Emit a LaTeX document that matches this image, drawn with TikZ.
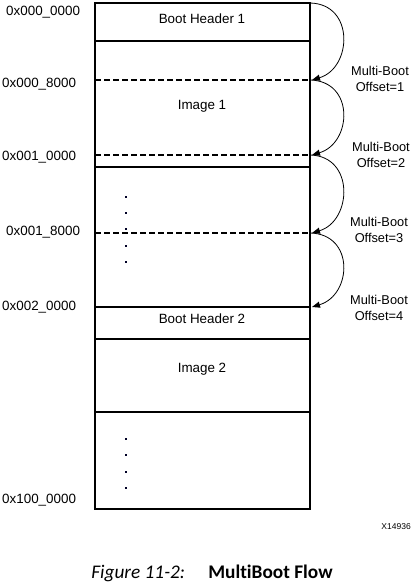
\documentclass[tikz,border=0pt]{standalone}
\usepackage{fontspec}
\setmainfont{Liberation Sans}
\newfontfamily\capfont[Ligatures=NoCommon]{Carlito}
\usetikzlibrary{arrows.meta}
\begin{document}
\begin{tikzpicture}[x=1pt,y=-1pt,
  lbl/.style={font=\fontsize{13.4}{14}\selectfont, inner sep=0pt},
  addr/.style={font=\fontsize{13.4}{14}\selectfont, inner sep=0pt, anchor=west},
  mb/.style={font=\fontsize{12.8}{16.5}\selectfont, inner sep=0pt, align=center},
  solidline/.style={line width=2pt},
  dashline/.style={line width=1.4pt, dash pattern=on 6pt off 3pt},
  jump/.style={line width=0.8pt, -{Triangle[length=8pt,width=6pt]}},
  dotmark/.style={fill=black!85!blue, inner sep=0pt, minimum size=2pt, shape=rectangle}
]
\useasboundingbox (0,0) rectangle (412,586);
% memory box
\draw[solidline] (95,3) rectangle (310,509);
\draw[solidline] (95,41) -- (310,41);
\draw[solidline] (95,167) -- (310,167);
\draw[solidline] (95,307) -- (310,307);
\draw[solidline] (95,339) -- (310,339);
\draw[solidline] (95,412) -- (310,412);
\draw[dashline] (95,80) -- (310,80);
\draw[dashline] (95,155) -- (310,155);
\draw[dashline] (95,233) -- (310,233);
% region labels
\node[lbl] (bh1) at (202,19) {Boot Header 1};
\node[lbl] (im1) at (202,106) {Image 1};
\node[lbl] (bh2) at (202,319) {Boot Header 2};
\node[lbl] (im2) at (202,369) {Image 2};
% dots
\foreach \y [count=\i] in {197,213,229,246,262} \node[dotmark] (da\i) at (126,\y) {};
\foreach \y [count=\i] in {439,455,472,488} \node[dotmark] (db\i) at (126,\y) {};
% addresses
\node[addr] (a0) at (6,12) {0x000\_0000};
\node[addr] (a1) at (2,84) {0x000\_8000};
\node[addr] (a2) at (2,157) {0x001\_0000};
\node[addr] (a3) at (6,232) {0x001\_8000};
\node[addr] (a4) at (2,307) {0x002\_0000};
\node[addr] (a5) at (2,500) {0x100\_0000};
% jump points
\coordinate (p0) at (310,3);
\coordinate (p1) at (312,80);
\coordinate (q1) at (310,80);
\coordinate (p2) at (312,155);
\coordinate (q2) at (310,155);
\coordinate (p3) at (312,233);
\coordinate (q3) at (310,233);
\coordinate (p4) at (312,307);
\draw[jump] (p0) .. controls (355,4) and (352,68) .. (p1);
\draw[jump] (q1) .. controls (355,81) and (352,143) .. (p2);
\draw[jump] (q2) .. controls (355,156) and (352,221) .. (p3);
\draw[jump] (q3) .. controls (355,234) and (352,295) .. (p4);
% offset labels
\node[mb] (o1) at (380,79) {Multi-Boot\\Offset=1};
\node[mb] (o2) at (381,155) {Multi-Boot\\Offset=2};
\node[mb] (o3) at (379,230) {Multi-Boot\\Offset=3};
\node[mb] (o4) at (379,308) {Multi-Boot\\Offset=4};
% figure id
\node[font=\fontsize{8.5}{9}\selectfont, inner sep=0pt, anchor=east] (fid) at (411,527) {X14936};
% caption
\node[font=\capfont\fontsize{19.3}{21}\selectfont, inner sep=0pt] (cap) at (212,573) {\textit{Figure 11-2:}\hspace{1.2em}\textbf{MultiBoot Flow}};
\end{tikzpicture}
\end{document}
